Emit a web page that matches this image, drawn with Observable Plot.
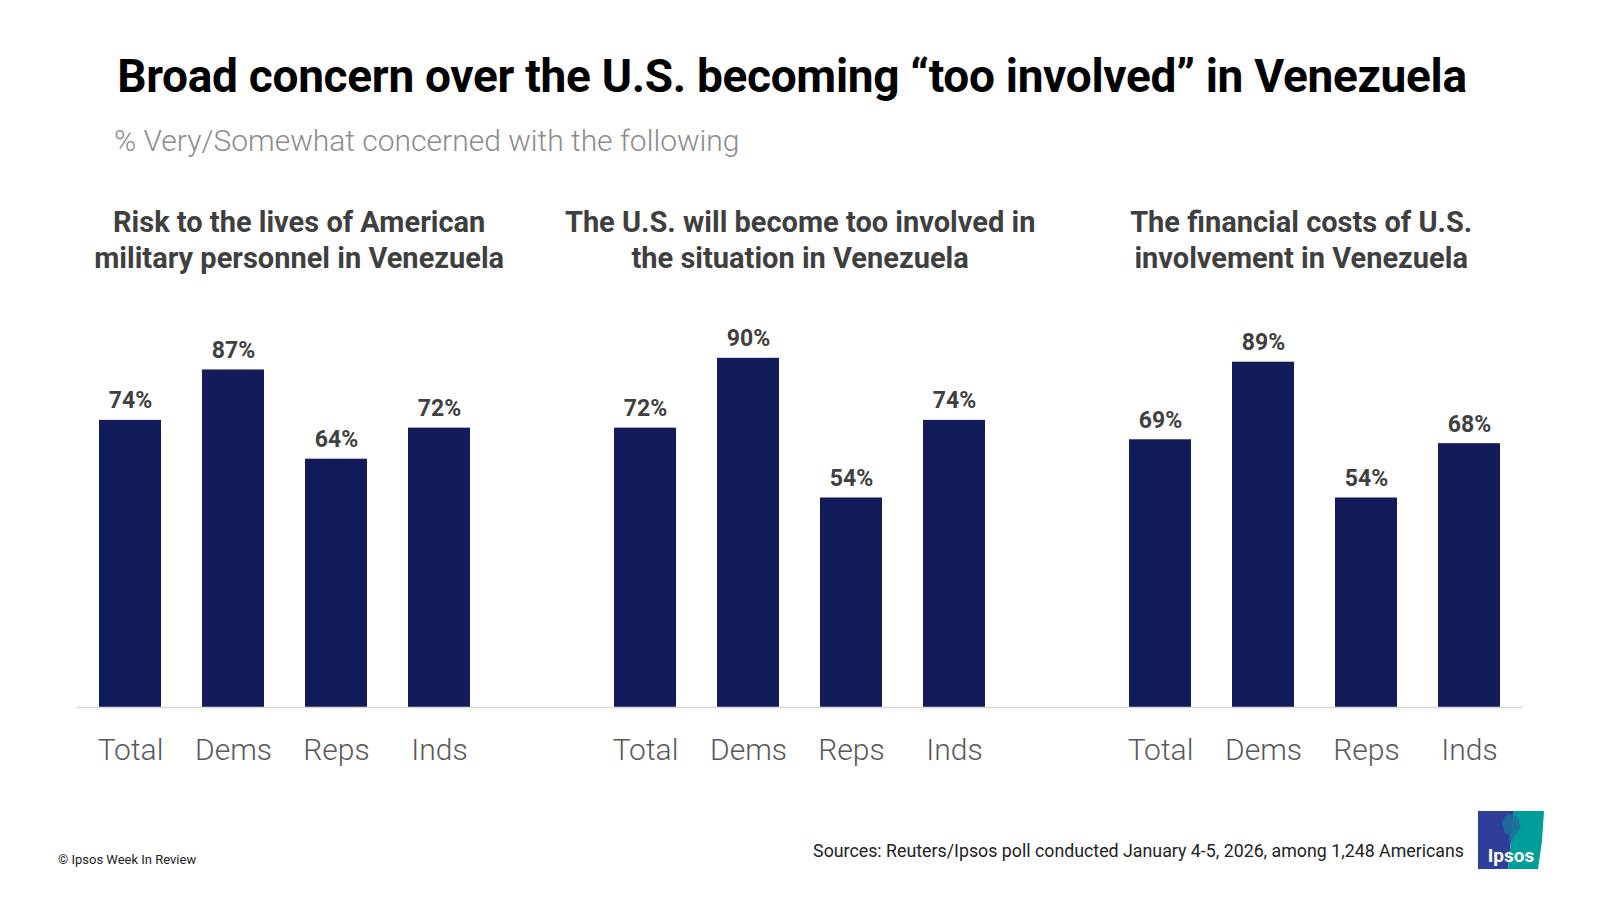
<!DOCTYPE html>
<html>
<head>
<meta charset="utf-8">
<script src="https://cdn.jsdelivr.net/npm/d3@7"></script>
<script src="https://cdn.jsdelivr.net/npm/@observablehq/plot@0.6"></script>
<style>
  html, body { margin: 0; padding: 0; background: #fff; }
  body { width: 1600px; height: 900px; position: relative; overflow: hidden; font-family: Roboto, "Noto Sans", sans-serif; }
  #title { position: absolute; left: -8px; width: 1600px; top: 49px; text-align: center; font-size: 46px; font-weight: 700; color: #000; letter-spacing: -0.3px; }
  #subtitle { position: absolute; left: 114px; top: 123px; font-size: 30px; font-weight: 300; color: #8c8c8c; }
  #chart { position: absolute; left: 0; top: 180px; }
  #copy { position: absolute; left: 58px; top: 852px; font-size: 13px; color: #222; }
  #source { position: absolute; right: 136px; top: 840px; font-size: 17.8px; color: #222; }
  #logo { position: absolute; left: 1478px; top: 811px; }
</style>
</head>
<body>
<div id="title">Broad concern over the U.S. becoming “too involved” in Venezuela</div>
<div id="subtitle">% Very/Somewhat concerned with the following</div>
<div id="chart"></div>
<div id="copy">© Ipsos Week In Review</div>
<div id="source">Sources: Reuters/Ipsos poll conducted January 4-5, 2026, among 1,248 Americans</div>
<svg id="logo" width="66" height="58" viewBox="0 0 66 58">
  <polygon points="0,0 36,0 30,58 0,58" fill="#2f3e98"/>
  <polygon points="36,0 66,0 64,30 60,58 30,58" fill="#009e9a"/>
  <path d="M26,8 C26,3 34,2 37,5 C41,6 42,10 41,13 L43,17 L41,18 C41,22 39,24 36,24 L35,30 L31,30 L31,24 C27,24 25,21 26,17 C23,15 24,10 26,8 Z" fill="#1d6f9a" opacity="0.85"/>
  <text x="33" y="51" text-anchor="middle" font-family="Roboto, sans-serif" font-weight="700" font-size="19" fill="#fff">Ipsos</text>
</svg>
<script>
// ---- data ----
const panels = [
  "Risk to the lives of American\nmilitary personnel in Venezuela",
  "The U.S. will become too involved in\nthe situation in Venezuela",
  "The financial costs of U.S.\ninvolvement in Venezuela"
];
const groups = ["Total", "Dems", "Reps", "Inds"];
const riskToLives = [74, 87, 64, 72];
const tooInvolved = [72, 90, 54, 74];
const financialCosts = [69, 89, 54, 68];

// ---- build table ----
const seriesValues = [riskToLives, tooInvolved, financialCosts];
const rows = [];
const domain = [];
panels.forEach((p, i) => {
  groups.forEach((g, j) => {
    const key = `${i}|${g}`;
    domain.push(key);
    rows.push({panel: p, group: g, key, value: seriesValues[i][j]});
  });
  if (i < panels.length - 1) domain.push(`gap${i}`);
});
const tickKeys = domain.filter(d => !d.startsWith("gap"));

const W = 1600, H = 610, mL = 76.5, mR = 77, mT = 139, mB = 83;
const step = (W - mL - mR) / domain.length; // paddingInner 0.4, paddingOuter 0.2
const titleShift = [14, 0, -14];

const titleMarks = panels.map((p, i) => Plot.text([{panel: p, key: `${i}|Dems`}], {
  x: "key", text: "panel", frameAnchor: "top",
  lineAnchor: "top", dx: step / 2 + titleShift[i], dy: -113, lineHeight: 1.25,
  fontSize: 29, fontWeight: 700, fill: "#3f3f3f"
}));

const chart = Plot.plot({
  width: W,
  height: H,
  marginLeft: mL,
  marginRight: mR,
  marginTop: mT,
  marginBottom: mB,
  style: {fontFamily: "Roboto, sans-serif", background: "transparent"},
  x: {domain, paddingInner: 0.4, paddingOuter: 0.2, label: null},
  y: {domain: [0, 100], axis: null},
  marks: [
    Plot.axisX({
      ticks: tickKeys,
      tickFormat: d => d.split("|")[1],
      tickSize: 0,
      tickPadding: 31,
      fontSize: 30,
      fontWeight: 300,
      fill: "#595959",
      label: null
    }),
    Plot.barY(rows, {x: "key", y: "value", fill: "#131c5b"}),
    Plot.ruleY([0], {stroke: "#d9d9d9", strokeWidth: 1.5}),
    Plot.text(rows, {
      x: "key", y: "value", text: d => `${d.value}%`,
      lineAnchor: "bottom", dy: -12,
      fontSize: 23, fontWeight: 700, fill: "#404040"
    }),
    ...titleMarks
  ]
});
document.getElementById("chart").appendChild(chart);
</script>
</body>
</html>
